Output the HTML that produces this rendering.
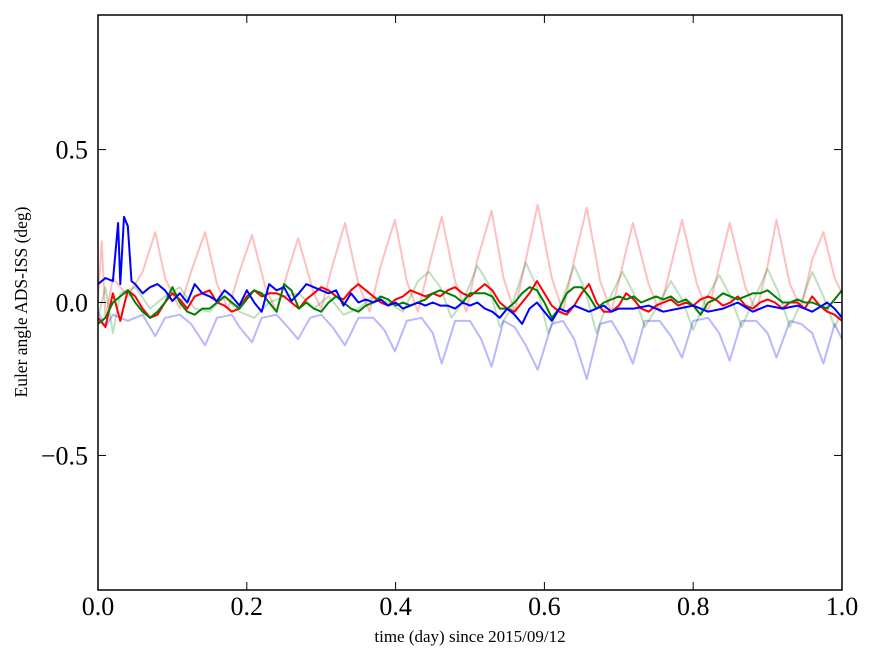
<!DOCTYPE html>
<html><head><meta charset="utf-8"><style>
html,body{margin:0;padding:0;background:#fff;}
svg{display:block;font-family:"Liberation Serif",serif;}
</style></head><body>
<svg id="chart" width="875" height="662">
<g id="plot"></g>
<rect x="98" y="15" width="744" height="575" fill="none" stroke="#000" stroke-width="1.5"/>
<g id="ticks"></g>
<text x="470" y="642" font-size="17" text-anchor="middle">time (day) since 2015/09/12</text>
<text transform="translate(27,302) rotate(-90)" font-size="17.5" text-anchor="middle">Euler angle ADS-ISS (deg)</text>
</svg>
<script>
const xTicks=[0.0,0.2,0.4,0.6,0.8,1.0];
const xTickLabels=["0.0","0.2","0.4","0.6","0.8","1.0"];
const yTicks=[0.5,0.0,-0.5];
const yTickLabels=["0.5","0.0","\u22120.5"];
const faintRedT=[0,0.005,0.01,0.02,0.04,0.06,0.077,0.09,0.11,0.125,0.144,0.16,0.175,0.19,0.207,0.225,0.24,0.255,0.269,0.29,0.3,0.315,0.332,0.35,0.365,0.38,0.399,0.415,0.43,0.445,0.462,0.48,0.495,0.51,0.529,0.545,0.56,0.575,0.591,0.61,0.625,0.64,0.657,0.675,0.69,0.705,0.719,0.74,0.755,0.77,0.785,0.805,0.82,0.835,0.849,0.87,0.885,0.9,0.912,0.93,0.945,0.96,0.975,0.99,1.0];
const faintRedV=[0.0,0.2,-0.05,0.08,0.02,0.1,0.23,0.08,-0.02,0.1,0.23,0.06,-0.02,0.1,0.22,0.05,-0.03,0.1,0.21,0.03,-0.02,0.12,0.26,0.06,-0.03,0.12,0.27,0.07,-0.03,0.12,0.28,0.07,-0.03,0.14,0.30,0.08,-0.03,0.14,0.32,0.08,-0.03,0.14,0.31,0.07,-0.03,0.12,0.26,0.06,-0.03,0.12,0.27,0.06,-0.03,0.12,0.26,0.05,-0.03,0.12,0.27,0.06,-0.02,0.14,0.23,0.08,0.03];
const faintGreenT=[0,0.01,0.02,0.03,0.05,0.07,0.09,0.11,0.13,0.15,0.17,0.19,0.21,0.23,0.25,0.27,0.29,0.31,0.33,0.35,0.37,0.39,0.41,0.43,0.445,0.46,0.475,0.49,0.51,0.525,0.54,0.555,0.575,0.59,0.605,0.62,0.64,0.655,0.67,0.685,0.705,0.72,0.735,0.75,0.77,0.785,0.8,0.815,0.835,0.85,0.865,0.88,0.9,0.915,0.93,0.945,0.96,0.975,0.99,1.0];
const faintGreenV=[-0.05,0.05,-0.1,0.03,0.05,-0.02,0.02,0.05,-0.02,-0.03,0.02,-0.03,-0.05,0.0,0.02,0.03,-0.02,0.02,-0.04,-0.02,0.02,0.0,-0.03,0.07,0.1,0.05,-0.05,0.0,0.12,0.06,-0.08,-0.02,0.13,0.05,-0.1,-0.02,0.12,0.04,-0.1,0.0,0.1,0.03,-0.08,-0.02,0.07,0.01,-0.09,0.0,0.09,0.02,-0.08,0.0,0.11,0.03,-0.08,0.0,0.1,0.02,-0.08,-0.03];
const faintBlueT=[0,0.01,0.02,0.04,0.06,0.077,0.09,0.11,0.125,0.144,0.16,0.18,0.19,0.207,0.22,0.24,0.255,0.269,0.285,0.3,0.315,0.332,0.35,0.37,0.385,0.399,0.415,0.435,0.45,0.462,0.48,0.5,0.515,0.529,0.545,0.56,0.575,0.591,0.61,0.625,0.64,0.657,0.675,0.69,0.705,0.719,0.735,0.755,0.77,0.785,0.8,0.82,0.835,0.849,0.865,0.885,0.9,0.912,0.93,0.945,0.96,0.975,0.99,1.0];
const faintBlueV=[-0.03,-0.08,-0.04,-0.06,-0.04,-0.11,-0.05,-0.04,-0.07,-0.14,-0.05,-0.04,-0.08,-0.13,-0.05,-0.04,-0.08,-0.12,-0.05,-0.04,-0.08,-0.14,-0.05,-0.05,-0.09,-0.16,-0.06,-0.05,-0.1,-0.2,-0.06,-0.06,-0.12,-0.21,-0.06,-0.08,-0.14,-0.22,-0.07,-0.06,-0.12,-0.25,-0.07,-0.06,-0.12,-0.2,-0.06,-0.06,-0.11,-0.18,-0.06,-0.05,-0.1,-0.19,-0.06,-0.06,-0.1,-0.18,-0.06,-0.07,-0.1,-0.2,-0.07,-0.12];
const redT=[0,0.01,0.02,0.03,0.04,0.05,0.06,0.07,0.08,0.09,0.1,0.11,0.12,0.13,0.14,0.15,0.16,0.17,0.18,0.19,0.2,0.21,0.22,0.23,0.24,0.25,0.26,0.27,0.28,0.29,0.3,0.31,0.32,0.33,0.34,0.35,0.36,0.37,0.38,0.39,0.4,0.41,0.42,0.43,0.44,0.45,0.46,0.47,0.48,0.49,0.5,0.51,0.52,0.53,0.54,0.55,0.56,0.57,0.58,0.59,0.6,0.61,0.62,0.63,0.64,0.65,0.66,0.67,0.68,0.69,0.7,0.71,0.72,0.73,0.74,0.75,0.76,0.77,0.78,0.79,0.8,0.81,0.82,0.83,0.84,0.85,0.86,0.87,0.88,0.89,0.9,0.91,0.92,0.93,0.94,0.95,0.96,0.97,0.98,0.99,1.0];
const redV=[-0.05,-0.08,0.03,-0.06,0.04,0.02,-0.02,-0.05,-0.04,0.0,0.03,0.01,-0.02,0.02,0.03,0.04,0.0,-0.01,-0.03,-0.02,0.02,0.04,0.02,0.03,0.03,0.02,0.0,-0.02,0.01,0.03,0.05,0.04,0.02,0.01,0.04,0.06,0.04,0.02,0.0,-0.01,0.01,0.02,0.04,0.03,0.02,0.03,0.02,0.04,0.05,0.03,0.02,0.04,0.06,0.04,0.0,-0.02,-0.03,0.0,0.03,0.07,0.03,-0.01,-0.03,-0.04,-0.01,0.03,0.06,0.0,-0.03,-0.03,-0.01,0.03,0.01,-0.02,-0.03,-0.01,0.0,0.01,-0.01,0.0,-0.01,0.01,0.02,0.01,-0.01,0.0,0.02,-0.01,-0.02,0.0,0.01,0.0,-0.02,0.0,0.0,-0.02,0.02,-0.01,-0.03,-0.04,-0.06];
const greenT=redT;
const greenV=[-0.07,-0.05,0.0,0.02,0.04,0.0,-0.03,-0.05,-0.03,0.0,0.05,0.0,-0.03,-0.04,-0.02,-0.02,0.0,0.02,0.0,-0.02,0.01,0.04,0.03,0.0,-0.03,0.06,0.04,-0.02,0.0,-0.02,-0.03,0.0,0.02,0.0,-0.02,-0.03,-0.01,0.0,0.02,0.01,-0.01,0.0,-0.01,0.0,0.01,0.03,0.04,0.03,0.02,0.0,0.03,0.03,0.03,0.02,-0.02,-0.02,0.0,0.03,0.05,0.04,0.0,-0.05,-0.02,0.03,0.05,0.05,0.02,-0.02,0.0,0.01,0.02,0.01,0.02,0.0,0.01,0.02,0.01,0.02,0.0,0.01,-0.01,-0.04,0.0,0.01,0.03,0.02,0.01,0.02,0.03,0.03,0.04,0.02,0.0,0.0,0.01,0.0,0.0,-0.01,-0.02,0.01,0.04];
const blueT=[0,0.01,0.02,0.027,0.03,0.035,0.04,0.045,0.05,0.06,0.07,0.08,0.09,0.1,0.11,0.12,0.13,0.14,0.15,0.16,0.17,0.18,0.19,0.2,0.21,0.22,0.23,0.24,0.25,0.26,0.27,0.28,0.29,0.3,0.31,0.32,0.33,0.34,0.35,0.36,0.37,0.38,0.39,0.4,0.41,0.42,0.43,0.44,0.45,0.46,0.47,0.48,0.49,0.5,0.51,0.52,0.53,0.54,0.55,0.56,0.57,0.58,0.59,0.6,0.61,0.62,0.63,0.64,0.65,0.66,0.67,0.68,0.69,0.7,0.72,0.74,0.76,0.78,0.8,0.82,0.84,0.86,0.88,0.9,0.92,0.94,0.96,0.98,0.99,1.0];
const blueV=[0.06,0.08,0.07,0.26,0.06,0.28,0.25,0.07,0.06,0.03,0.05,0.06,0.04,0.005,0.03,0.0,0.06,0.03,0.02,0.005,0.04,0.02,-0.01,0.04,0.0,-0.03,0.06,0.04,0.05,0.005,0.03,0.06,0.05,0.04,0.03,0.04,-0.01,0.03,0.0,0.01,0.0,0.01,-0.01,0.0,-0.02,-0.01,0.0,-0.01,0.0,-0.01,-0.01,-0.02,0.0,-0.01,0.0,-0.02,-0.03,-0.05,-0.02,-0.04,-0.07,-0.02,0.0,-0.03,-0.06,-0.02,-0.03,-0.01,-0.02,-0.03,-0.02,-0.01,-0.03,-0.02,-0.02,-0.01,-0.03,-0.02,-0.01,-0.03,-0.02,0.0,-0.03,-0.01,-0.02,-0.01,-0.03,0.0,-0.02,-0.05];

const X0=98,X1=842,Y0=15,Y1=590,YMIN=-0.94,YMAX=0.94;
const xs=t=>X0+(t-0)/(1-0)*(X1-X0);
const ys=v=>Y1-(v-YMIN)/(YMAX-YMIN)*(Y1-Y0);
const NS="http://www.w3.org/2000/svg";
const plot=document.getElementById('plot');
function line(T,V,color,op,w,name){
  const p=document.createElementNS(NS,'path');
  p.setAttribute('d',T.map((t,i)=>(i?'L':'M')+xs(t).toFixed(1)+' '+ys(V[i]).toFixed(1)).join(''));
  p.setAttribute('fill','none');p.setAttribute('stroke',color);
  p.setAttribute('stroke-opacity',op);p.setAttribute('stroke-width',w);
  p.setAttribute('stroke-linejoin','round');
  
  
  plot.appendChild(p);
}
line(faintRedT,faintRedV,'#f00',0.25,2,'faint-red-series');
line(faintGreenT,faintGreenV,'#008000',0.25,2,'faint-green-series');
line(faintBlueT,faintBlueV,'#00f',0.28,2,'faint-blue-series');
line(redT,redV,'#f00',1,2,'red-series');
line(greenT,greenV,'#008000',1,2,'green-series');
line(blueT,blueV,'#00f',1,2,'blue-series');
const tk=document.getElementById('ticks');
function el(tag,attrs,txt){const e=document.createElementNS(NS,tag);for(const k in attrs)e.setAttribute(k,attrs[k]);if(txt!==undefined)e.textContent=txt;tk.appendChild(e);return e;}
xTicks.forEach((t,i)=>{
  const x=xs(t);
  const a=el('line',{x1:x,x2:x,y1:Y1,y2:Y1-8,stroke:'#000'});
  
  
  el('line',{x1:x,x2:x,y1:Y0,y2:Y0+8,stroke:'#000'});
  const l=el('text',{x:x,y:615,'font-size':26,'text-anchor':'middle'},xTickLabels[i]);
  
  
});
yTicks.forEach((v,i)=>{
  const y=ys(v);
  const a=el('line',{x1:X0,x2:X0+8,y1:y,y2:y,stroke:'#000'});
  
  
  el('line',{x1:X1,x2:X1-8,y1:y,y2:y,stroke:'#000'});
  const l=el('text',{x:88,y:y+9,'font-size':26,'text-anchor':'end'},yTickLabels[i]);
  
  
});
</script>
</body></html>
